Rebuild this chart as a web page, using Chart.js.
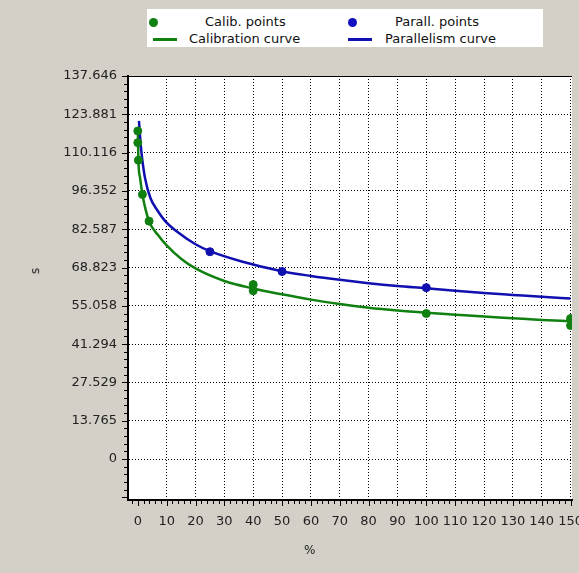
<!DOCTYPE html>
<html lang="en">
<head>
<meta charset="UTF-8">
<title>Calibration / parallelism</title>
<script src="https://cdn.jsdelivr.net/npm/chart.js@4/dist/chart.umd.min.js"></script>
<style>
body { margin: 0; background: #d4d0c8; font-family: "DejaVu Sans", sans-serif; }
#outer { position: relative; width: 579px; height: 573px; }
#legend { position: absolute; left: 147px; top: 9px; width: 396px; height: 38px; background: #fff; font-size: 13px; color: #111; }
#legend div { position: absolute; }
.dot { width: 9px; height: 9px; border-radius: 50%; }
.bar { height: 3px; width: 24px; }
.txt { line-height: 16px; white-space: nowrap; }
.axtitle { position: absolute; font-size: 12px; color: #222; line-height: 14px; }
</style>
</head>
<body>
<div id="outer">
	<canvas id="chart" width="579" height="573"></canvas>

	<div id="legend">
		<div class="dot" style="left:2px; top:9px; background:#108010"></div>
		<div class="txt" style="left:58px; top:5px">Calib. points</div>
		<div class="dot" style="left:201px; top:9px; background:#1010c0"></div>
		<div class="txt" style="left:248px; top:5px">Parall. points</div>
		<div class="bar" style="left:6px; top:29px; background:#108010"></div>
		<div class="txt" style="left:42px; top:22px">Calibration curve</div>
		<div class="bar" style="left:201px; top:29px; background:#1010b0"></div>
		<div class="txt" style="left:238px; top:22px">Parallelism curve</div>
	</div>
	<div class="axtitle" style="left:32px; top:264px; transform: rotate(-90deg);">s</div>
	<div class="axtitle" style="left:304px; top:543px;">%</div>
</div>

<script type="text/javascript">

// calibration points
const calibX = [0, 0, 0.2, 1.6, 3.9, 40, 40, 100, 150, 150];
const calibY = [117.9, 113.7, 107.4, 95.1, 85.5, 62.7, 60.5, 52.3, 50.5, 48.0];

// parallelism points
const parallX = [25, 50, 100];
const parallY = [74.5, 67.4, 61.6];

// calibration curve
const calCurveX = [0, 0.2, 0.8, 1.6, 3.9, 7, 10, 15, 20, 30, 40, 50, 60, 70, 80, 90, 100, 110, 120, 130, 140, 150];
const calCurveY = [119, 107.4, 101, 95.1, 85.5, 80.5, 76.8, 72, 68.5, 64, 61.3, 59.2, 57.3, 55.7, 54.4, 53.4, 52.6, 51.9, 51.2, 50.6, 50.0, 49.5];

// parallelism curve
const parCurveX = [0.4, 1, 1.5, 2.5, 4.3, 6.7, 9.5, 14, 20, 25, 36, 50, 60, 70, 80, 90, 100, 110, 120, 130, 140, 150];
const parCurveY = [121.5, 113, 108, 101, 94, 89.5, 85.5, 81.4, 77.2, 74.7, 71, 67.5, 65.8, 64.4, 63.2, 62.2, 61.4, 60.5, 59.7, 59, 58.3, 57.7];

// tick labels
const xTicks = [0, 10, 20, 30, 40, 50, 60, 70, 80, 90, 100, 110, 120, 130, 140, 150];
const yTicks = [0, 13.765, 27.529, 41.294, 55.058, 68.823, 82.587, 96.352, 110.116, 123.881, 137.646];
const yTickLabels = ['0', '13.765', '27.529', '41.294', '55.058', '68.823', '82.587', '96.352', '110.116', '123.881', '137.646'];

function pts(xs, ys) {
	return xs.map((x, i) => ({x: x, y: ys[i]}));
}

const green = '#108010';
const blue = '#1010b0';

const framePlugin = {
	id: 'frame',
	beforeDraw(chart) {
		const ctx = chart.ctx, a = chart.chartArea;
		ctx.save();
		ctx.fillStyle = '#fff';
		ctx.fillRect(a.left, a.top, a.right - a.left, a.bottom - a.top);
		ctx.restore();
	},
	afterDraw(chart) {
		const ctx = chart.ctx, a = chart.chartArea;
		const x = chart.scales.x, y = chart.scales.y;
		ctx.save();
		ctx.strokeStyle = '#000';
		ctx.lineWidth = 1;
		ctx.beginPath();
		// top border
		ctx.moveTo(a.left, a.top + 0.5);
		ctx.lineTo(a.right, a.top + 0.5);
		// x axis ticks, minor every 2
		for (let v = -2; v <= 150; v += 2) {
			const px = Math.round(x.getPixelForValue(v)) + 0.5;
			const len = v % 10 === 0 ? 5 : 3;
			ctx.moveTo(px, a.bottom + 1);
			ctx.lineTo(px, a.bottom + 1 + len);
		}
		// y axis ticks, minor every fifth
		const step = yTicks[1] / 5;
		for (let k = -5; k <= 50; k++) {
			const v = k * step;
			if (v < y.min) continue;
			const py = Math.round(y.getPixelForValue(v)) + 0.5;
			const len = k % 5 === 0 ? 5 : 3;
			ctx.moveTo(a.left - 1, py);
			ctx.lineTo(a.left - 1 - len, py);
		}
		ctx.stroke();
		ctx.restore();
	}
};

const config = {
	type: 'scatter',
	data: {
		datasets: [
			{
				label: 'Calibration curve',
				data: pts(calCurveX, calCurveY),
				showLine: true,
				borderColor: green,
				borderWidth: 2.5,
				pointRadius: 0,
				cubicInterpolationMode: 'monotone',
				order: 3
			},
			{
				label: 'Parallelism curve',
				data: pts(parCurveX, parCurveY),
				showLine: true,
				borderColor: blue,
				borderWidth: 2.5,
				pointRadius: 0,
				cubicInterpolationMode: 'monotone',
				order: 2
			},
			{
				label: 'Calib. points',
				data: pts(calibX, calibY),
				backgroundColor: green,
				borderColor: green,
				pointRadius: 4,
				order: 1
			},
			{
				label: 'Parall. points',
				data: pts(parallX, parallY),
				backgroundColor: blue,
				borderColor: blue,
				pointRadius: 4,
				order: 0
			}
		]
	},
	options: {
		responsive: false,
		animation: false,
		layout: { padding: { top: 76, right: 7, bottom: 0, left: 0 } },
		plugins: {
			legend: { display: false },
			tooltip: { enabled: false }
		},
		scales: {
			x: {
				type: 'linear',
				min: -3.4,
				max: 150.5,
				afterBuildTicks: s => { s.ticks = xTicks.map(v => ({value: v})); },
				afterFit: s => { s.height = 73; s.paddingLeft = 0; s.paddingRight = 0; },
				ticks: {
					autoSkip: false,
					maxRotation: 0,
					padding: 14,
					color: '#222',
					font: { family: 'DejaVu Sans', size: 13 }
				},
				grid: {
					drawTicks: false,
					color: c => (c.tick && c.tick.value === 0) ? 'rgba(0,0,0,0)' : '#000'
				},
				border: { display: true, color: '#000', width: 2, dash: [1, 2] }
			},
			y: {
				min: -14.7,
				max: 137.646,
				afterBuildTicks: s => { s.ticks = yTicks.map(v => ({value: v})); },
				afterFit: s => { s.width = 128; s.paddingTop = 0; s.paddingBottom = 0; },
				ticks: {
					padding: 11,
					color: '#222',
					font: { family: 'DejaVu Sans', size: 13 },
					callback: (v, i) => yTickLabels[i]
				},
				grid: {
					drawTicks: false,
					color: '#000'
				},
				border: { display: true, color: '#000', width: 2, dash: [1, 2] }
			}
		}
	},
	plugins: [framePlugin]
};

var myChart = new Chart(document.getElementById('chart'), config);

</script>
</body>
</html>
